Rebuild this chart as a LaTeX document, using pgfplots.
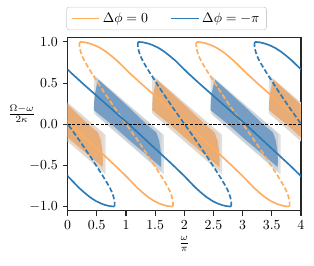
\documentclass[border=0pt]{standalone}
\usepackage{pgfplots}
\pgfplotsset{compat=1.18}
\usepackage{pgfplotstable}
\usetikzlibrary{calc}
\definecolor{corange}{RGB}{253,174,97}
\definecolor{cblue}{RGB}{44,123,182}
\definecolor{ofill}{RGB}{232,172,118}
\definecolor{bfill}{RGB}{118,158,196}

% stable branch, relative to its centre
\pgfplotstableread{
d y
-1.84 1.000
-1.76 0.995
-1.68 0.982
-1.60 0.963
-1.50 0.930
-1.40 0.885
-1.30 0.830
-1.20 0.770
-1.10 0.700
-1.00 0.630
-0.90 0.565
-0.80 0.500
-0.60 0.375
-0.40 0.250
-0.20 0.125
0.000 0.000
0.190 -0.125
0.380 -0.250
0.571 -0.375
0.761 -0.500
0.856 -0.565
0.951 -0.630
1.046 -0.700
1.141 -0.770
1.236 -0.830
1.331 -0.885
1.427 -0.930
1.522 -0.963
1.598 -0.982
1.674 -0.995
1.750 -1.000
}\solidT

% unstable branch, relative to its centre
\pgfplotstableread{
d y
-0.795 1.000
-0.801 0.980
-0.801 0.955
-0.797 0.930
-0.787 0.895
-0.770 0.855
-0.745 0.810
-0.710 0.760
-0.660 0.700
-0.600 0.630
-0.500 0.520
-0.400 0.410
-0.300 0.305
-0.200 0.200
-0.100 0.100
0.000 0.000
0.100 -0.100
0.200 -0.200
0.300 -0.305
0.400 -0.410
0.500 -0.520
0.600 -0.630
0.660 -0.700
0.710 -0.760
0.745 -0.810
0.770 -0.855
0.787 -0.895
0.797 -0.930
0.801 -0.955
0.801 -0.980
0.795 -1.000
}\dashT

\pgfplotstableread{
d y
-0.60 0.60
0.60 -0.13
0.60 -0.61
-0.60 0.13
}\grayT

\pgfplotstableread{
d y
-0.56 0.565
0.56 -0.115
0.56 -0.576
-0.56 0.116
}\lightT

\pgfplotstableread{
d y
-0.52 0.54
-0.30 0.40
0.00 0.205
0.30 0.00
0.47 -0.10
0.52 -0.20
0.545 -0.32
0.555 -0.43
0.55 -0.52
0.30 -0.37
0.00 -0.19
-0.30 0.00
-0.60 0.17
-0.595 0.27
-0.58 0.37
-0.555 0.46
-0.52 0.54
}\darkT

\begin{document}
\begin{tikzpicture}
\begin{axis}[
  scale only axis, width=168bp, height=124.8bp,
  xmin=0, xmax=4, ymin=-1.05, ymax=1.055,
  xtick={0,0.5,1,1.5,2,2.5,3,3.5,4},
  xticklabels={0,0.5,1,1.5,2,2.5,3,3.5,4},
  ytick={-1,-0.5,0,0.5,1},
  yticklabel style={/pgf/number format/.cd, fixed, fixed zerofill, precision=1},
  xtick pos=bottom, ytick pos=left, tick align=outside,
  major tick length=3.5pt,
  axis line style={line width=0.8pt, black!85},
  every tick/.style={black!85, line width=0.8pt},
  xlabel={$\frac{\omega}{\pi}$},
  xlabel style={yshift=2pt},
  ylabel={$\frac{\Omega-\omega}{2\kappa}$},
  ylabel style={rotate=-90, at={(axis description cs:-0.197,0.56)}, anchor=center},
  legend columns=2,
  legend style={at={(0.424,1.042)}, anchor=south, draw=black!20, rounded corners=2pt,
    inner xsep=3pt, inner ysep=2pt,
    /tikz/every even column/.append style={column sep=14pt}},
  legend image code/.code={\draw[#1] (0pt,0pt) -- (20pt,0pt);},
]
% gray bands
\foreach \c in {0.05,1.05,2.05,3.05,4.05}{
  \addplot[draw=none, fill=black!12, forget plot] table[x expr=\thisrow{d}+\c, y=y] {\grayT} -- cycle;
}
\foreach \c in {0.05,2.05,4.05}{
  \addplot[draw=none, fill=corange, fill opacity=0.18, forget plot] table[x expr=\thisrow{d}+\c, y=y] {\lightT} -- cycle;
  \addplot[draw=none, fill=ofill, forget plot] table[x expr=\thisrow{d}+\c, y=y] {\darkT} -- cycle;
}
\foreach \c in {1.05,3.05}{
  \addplot[draw=none, fill=cblue, fill opacity=0.12, forget plot] table[x expr=\thisrow{d}+\c, y=y] {\lightT} -- cycle;
  \addplot[draw=none, fill=bfill, forget plot] table[x expr=\thisrow{d}+\c, y=y] {\darkT} -- cycle;
}
% orange curves
\foreach \c in {0.05,2.05,4.05}{
  \addplot[draw=corange, line width=1.2pt, forget plot] table[x expr=\thisrow{d}+\c, y=y] {\solidT};
}
\foreach \c in {1.005,3.005}{
  \addplot[draw=corange, line width=1.2pt, dash pattern=on 3.6pt off 1.8pt, forget plot] table[x expr=\thisrow{d}+\c, y=y] {\dashT};
}
% blue curves
\foreach \c in {-0.95,1.05,3.05,5.05}{
  \addplot[draw=cblue, line width=1.2pt, forget plot] table[x expr=\thisrow{d}+\c, y=y] {\solidT};
}
\foreach \c in {0.005,2.005,4.005}{
  \addplot[draw=cblue, line width=1.2pt, dash pattern=on 3.6pt off 1.8pt, forget plot] table[x expr=\thisrow{d}+\c, y=y] {\dashT};
}
\addplot[draw=black, line width=0.6pt, dash pattern=on 2.2pt off 1.2pt, forget plot] coordinates {(0,0) (4,0)};
\addlegendimage{draw=corange, line width=1.2pt}
\addlegendentry{$\Delta\phi = 0$}
\addlegendimage{draw=cblue, line width=1.2pt}
\addlegendentry{$\Delta\phi = -\pi$}
\end{axis}
\path ($(current axis.south west)+(-48.7bp,-39.8bp)$) rectangle ($(current axis.north east)+(9.4bp,26.9bp)$);
\end{tikzpicture}
\end{document}
